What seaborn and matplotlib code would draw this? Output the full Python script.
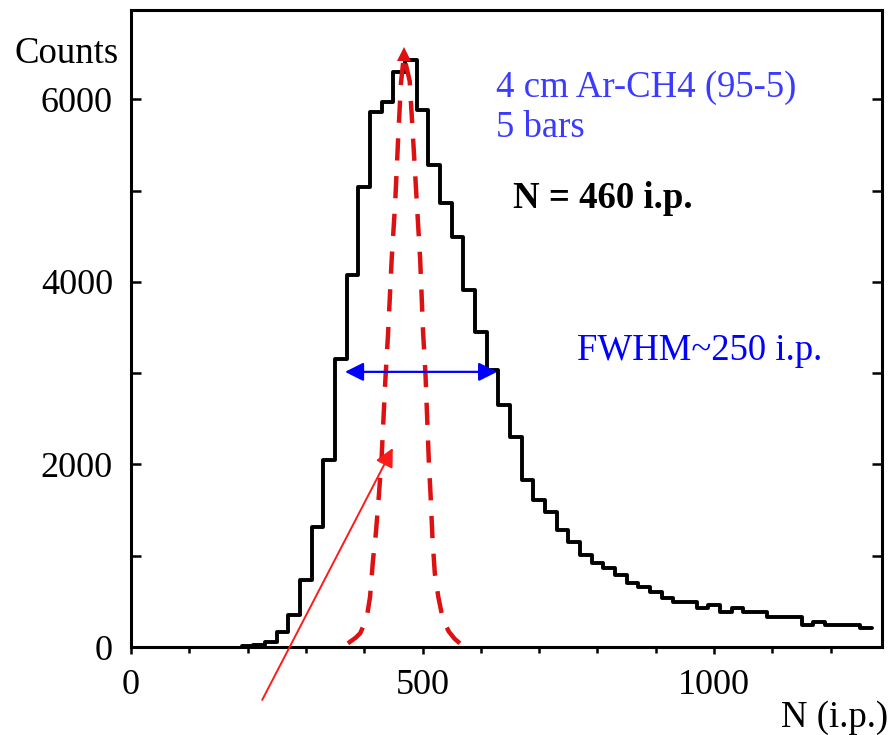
import numpy as np
import pandas as pd
import matplotlib
matplotlib.use("Agg")
import matplotlib.pyplot as plt
import seaborn as sns

# ---- data ----
bin_left = list(range(190, 1270, 20))
counts = [10, 20, 50, 165, 350, 734, 1318, 2048, 3161, 4073, 5040, 5862, 5971,
          6300, 6428, 5880, 5278, 4862, 4490, 3909, 3450, 3033, 2650, 2300, 1830,
          1610, 1480, 1280, 1150, 1007, 920, 865, 788, 700, 657, 602, 536, 493,
          493, 427, 460, 383, 427, 383, 383, 330, 330, 330, 241, 274, 241, 241,
          241, 208]
bin_width = 20

red_x = [372, 385, 393, 400, 405, 410, 415, 420, 425, 430, 436, 441, 447, 453,
         458, 463, 468, 478, 484, 490, 496, 501, 505, 508, 511, 514, 517, 521,
         527, 535, 545, 555, 564]
red_y = [40, 100, 150, 250, 350, 550, 950, 1250, 1650, 2100, 2900, 3450, 4240,
         4860, 5550, 6180, 6480, 6200, 5550, 4890, 4240, 3440, 3000, 2500, 2000,
         1640, 1200, 810, 550, 300, 170, 90, 40]

fwhm_left, fwhm_right, fwhm_level = 367, 628, 3015
arrow_tail = (225, -580)
arrow_head = (449, 2180)

x_ticks = [0, 500, 1000]
y_ticks = [0, 2000, 4000, 6000]

# ---- style ----
sns.set_style("ticks")
plt.rcParams["font.family"] = ["Liberation Serif", "DejaVu Serif"]
plt.rcParams["text.color"] = "black"
plt.rcParams["axes.labelcolor"] = "black"
plt.rcParams["xtick.color"] = "black"
plt.rcParams["ytick.color"] = "black"
plt.rcParams["axes.edgecolor"] = "black"

fig = plt.figure(figsize=(8.96, 7.35), dpi=100)
ax = fig.add_axes([131 / 896, 1 - 647 / 735, (882 - 131) / 896, (647 - 10) / 735])

df = pd.DataFrame({"N": np.array(bin_left) + bin_width / 2, "counts": counts})
edges = list(bin_left) + [bin_left[-1] + bin_width]
sns.histplot(data=df, x="N", weights="counts", bins=edges, element="step",
             fill=False, color="black", linewidth=2.8, ax=ax)

red_df = pd.DataFrame({"x": red_x, "y": red_y})
sns.lineplot(data=red_df, x="x", y="y", sort=False, color="#dd1111",
             linewidth=3.2, linestyle=(0, (5, 3.5)), ax=ax)
ax.plot([468], [6500], marker="^", markersize=10, color="#dd1111",
        markeredgewidth=0, zorder=5)

# FWHM arrow
ax.annotate("", xy=(fwhm_left, fwhm_level), xytext=(fwhm_right, fwhm_level),
            arrowprops=dict(arrowstyle="<|-|>", color="#0000ff", lw=1.6,
                            mutation_scale=28, shrinkA=0, shrinkB=0))
# red thin arrow
ax.annotate("", xy=arrow_head, xytext=arrow_tail, annotation_clip=False,
            arrowprops=dict(arrowstyle="-|>", color="#ff1a1a", lw=1.4,
                            mutation_scale=28, shrinkA=0, shrinkB=0))

ax.set_xlim(0, 1288)
ax.set_ylim(0, 6980)
ax.set_xlabel("")
ax.set_ylabel("")
ax.set_xticks(x_ticks)
ax.set_xticklabels([str(v) for v in x_ticks])
ax.set_xticks(np.arange(100, 1288, 100), minor=True)
ax.set_yticks(y_ticks)
ax.set_yticklabels([str(v) for v in y_ticks])
ax.set_yticks([1000, 3000, 5000], minor=True)

for s in ax.spines.values():
    s.set_linewidth(2.2)
    s.set_color("black")
    s.set_visible(True)

ax.tick_params(axis="y", which="both", direction="in", left=True, right=True,
               width=1.8, labelsize=26, pad=13, colors="black")
ax.tick_params(axis="y", which="major", length=7)
ax.tick_params(axis="y", which="minor", length=7)
ax.tick_params(axis="x", which="both", direction="out", bottom=True, top=False,
               width=1.8, labelsize=26, pad=11, colors="black")
ax.tick_params(axis="x", which="major", length=5)
ax.tick_params(axis="x", which="minor", length=4)

txt = dict(fontsize=26.5, ha="left", va="baseline")
ax.text(626, 6023, "4 cm Ar-CH4 (95-5)", color="#3b3bff", **txt)
ax.text(626, 5585, "5 bars", color="#3b3bff", **txt)
ax.text(655, 4807, "N = 460 i.p.", color="black", fontweight="bold", **txt)
ax.text(765, 3143, "FWHM~250 i.p.", color="#0000ff", **txt)

fig.text(15 / 896, 1 - 63 / 735, "Counts", fontsize=26.5, ha="left",
         va="baseline", color="black")
fig.text(888 / 896, 1 - 727 / 735, "N (i.p.)", fontsize=26.5, ha="right",
         va="baseline", color="black")

fig.savefig("out.png", dpi=100, facecolor="white")
